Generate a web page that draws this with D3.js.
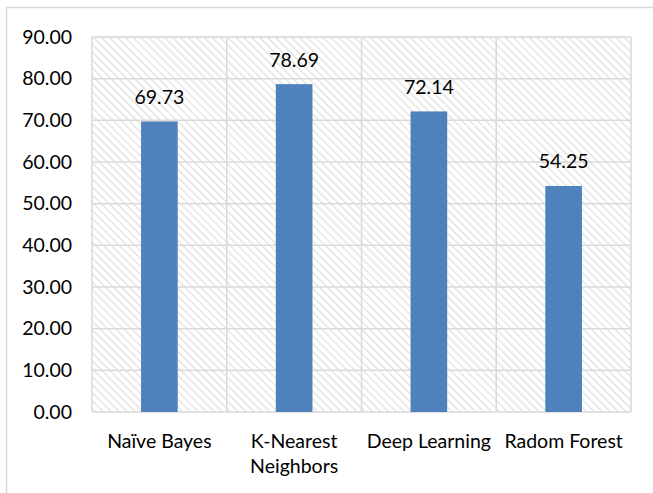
<!DOCTYPE html>
<html>
<head>
<meta charset="utf-8">
<script src="https://cdn.jsdelivr.net/npm/d3@7"></script>
<style>
  body { margin: 0; background: #fff; }
  svg text { font-family: Lato, "Open Sans", sans-serif; fill: #000; }
</style>
</head>
<body>
<div id="chart"></div>
<script>
var categories = ['Naïve Bayes', 'K-Nearest Neighbors', 'Deep Learning', 'Radom Forest'];
var accuracy = [69.73, 78.69, 72.14, 54.25];
var yTicks = [0, 10, 20, 30, 40, 50, 60, 70, 80, 90];

var W = 653, H = 493;
var margin = {top: 37, right: 22, bottom: 81, left: 92};
var width = W - margin.left - margin.right;
var height = H - margin.top - margin.bottom;

var svg = d3.select('#chart').append('svg')
    .attr('width', W)
    .attr('height', H);

// hatch pattern for the plot background
var defs = svg.append('defs');
defs.append('pattern')
    .attr('id', 'hatch')
    .attr('patternUnits', 'userSpaceOnUse')
    .attr('width', 5.6)
    .attr('height', 5.6)
    .attr('patternTransform', 'rotate(-45)')
  .append('line')
    .attr('x1', 0).attr('y1', 0)
    .attr('x2', 0).attr('y2', 5.6)
    .attr('stroke', '#e0e0e0')
    .attr('stroke-width', 2.6);

// outer chart border
svg.append('rect')
    .attr('x', 6.5).attr('y', 7.5)
    .attr('width', W + 10).attr('height', H + 10)
    .attr('fill', 'none')
    .attr('stroke', '#d9d9d9')
    .attr('stroke-width', 1.5);

var g = svg.append('g')
    .attr('transform', 'translate(' + margin.left + ',' + margin.top + ')');

var x = d3.scaleBand()
    .domain(categories)
    .range([0, width])
    .paddingInner(0.728)
    .paddingOuter(0.364);

var y = d3.scaleLinear()
    .domain([0, 90])
    .range([height, 0]);

g.append('rect')
    .attr('width', width)
    .attr('height', height)
    .attr('fill', 'url(#hatch)');

// horizontal gridlines
g.selectAll('.hgrid')
    .data(yTicks)
    .enter().append('line')
    .attr('class', 'hgrid')
    .attr('x1', 0).attr('x2', width)
    .attr('y1', function(d) { return y(d); })
    .attr('y2', function(d) { return y(d); })
    .attr('stroke', '#d9d9d9')
    .attr('stroke-width', 1.5);

// vertical gridlines at category boundaries
var step = x.step();
var bounds = d3.range(categories.length + 1);
g.selectAll('.vgrid')
    .data(bounds)
    .enter().append('line')
    .attr('class', 'vgrid')
    .attr('x1', function(i) { return i * step; })
    .attr('x2', function(i) { return i * step; })
    .attr('y1', 0).attr('y2', height)
    .attr('stroke', '#d9d9d9')
    .attr('stroke-width', 1.5);

// bars
g.selectAll('.bar')
    .data(accuracy)
    .enter().append('rect')
    .attr('class', 'bar')
    .attr('x', function(d, i) { return x(categories[i]); })
    .attr('y', function(d) { return y(d); })
    .attr('width', x.bandwidth())
    .attr('height', function(d) { return height - y(d); })
    .attr('fill', '#4f81bd');

// value labels
g.selectAll('.val')
    .data(accuracy)
    .enter().append('text')
    .attr('class', 'val')
    .attr('x', function(d, i) { return x(categories[i]) + x.bandwidth() / 2; })
    .attr('y', function(d) { return y(d) - 17.5; })
    .attr('text-anchor', 'middle')
    .style('font-size', '19.5px')
    .text(function(d) { return d.toFixed(2); });

// y axis
var yAxis = g.append('g')
    .call(d3.axisLeft(y).tickValues(yTicks).tickFormat(d3.format('.2f')).tickSize(0).tickPadding(20));
yAxis.select('.domain').remove();
yAxis.selectAll('text')
    .style('font-size', '19.5px')
    .style('font-family', 'Lato, "Open Sans", sans-serif');

// x axis
var xAxis = g.append('g')
    .attr('transform', 'translate(0,' + height + ')')
    .call(d3.axisBottom(x).tickSize(0).tickPadding(22));
xAxis.select('.domain').remove();
xAxis.selectAll('text')
    .style('font-size', '19.5px')
    .style('font-family', 'Lato, "Open Sans", sans-serif')
    .call(wrap, step - 4);

function wrap(texts, maxW) {
  texts.each(function() {
    var text = d3.select(this);
    var words = text.text().split(/\s+/);
    var yAttr = text.attr('y');
    var dy = parseFloat(text.attr('dy'));
    text.text(null);
    var line = [];
    var lineNo = 0;
    var tspan = text.append('tspan').attr('x', 0).attr('y', yAttr).attr('dy', dy + 'em');
    words.forEach(function(w) {
      line.push(w);
      tspan.text(line.join(' '));
      if (tspan.node().getComputedTextLength() > maxW && line.length > 1) {
        line.pop();
        tspan.text(line.join(' '));
        line = [w];
        lineNo++;
        tspan = text.append('tspan').attr('x', 0).attr('y', yAttr)
            .attr('dy', (lineNo * 1.27 + dy) + 'em').text(w);
      }
    });
  });
}
</script>
</body>
</html>
